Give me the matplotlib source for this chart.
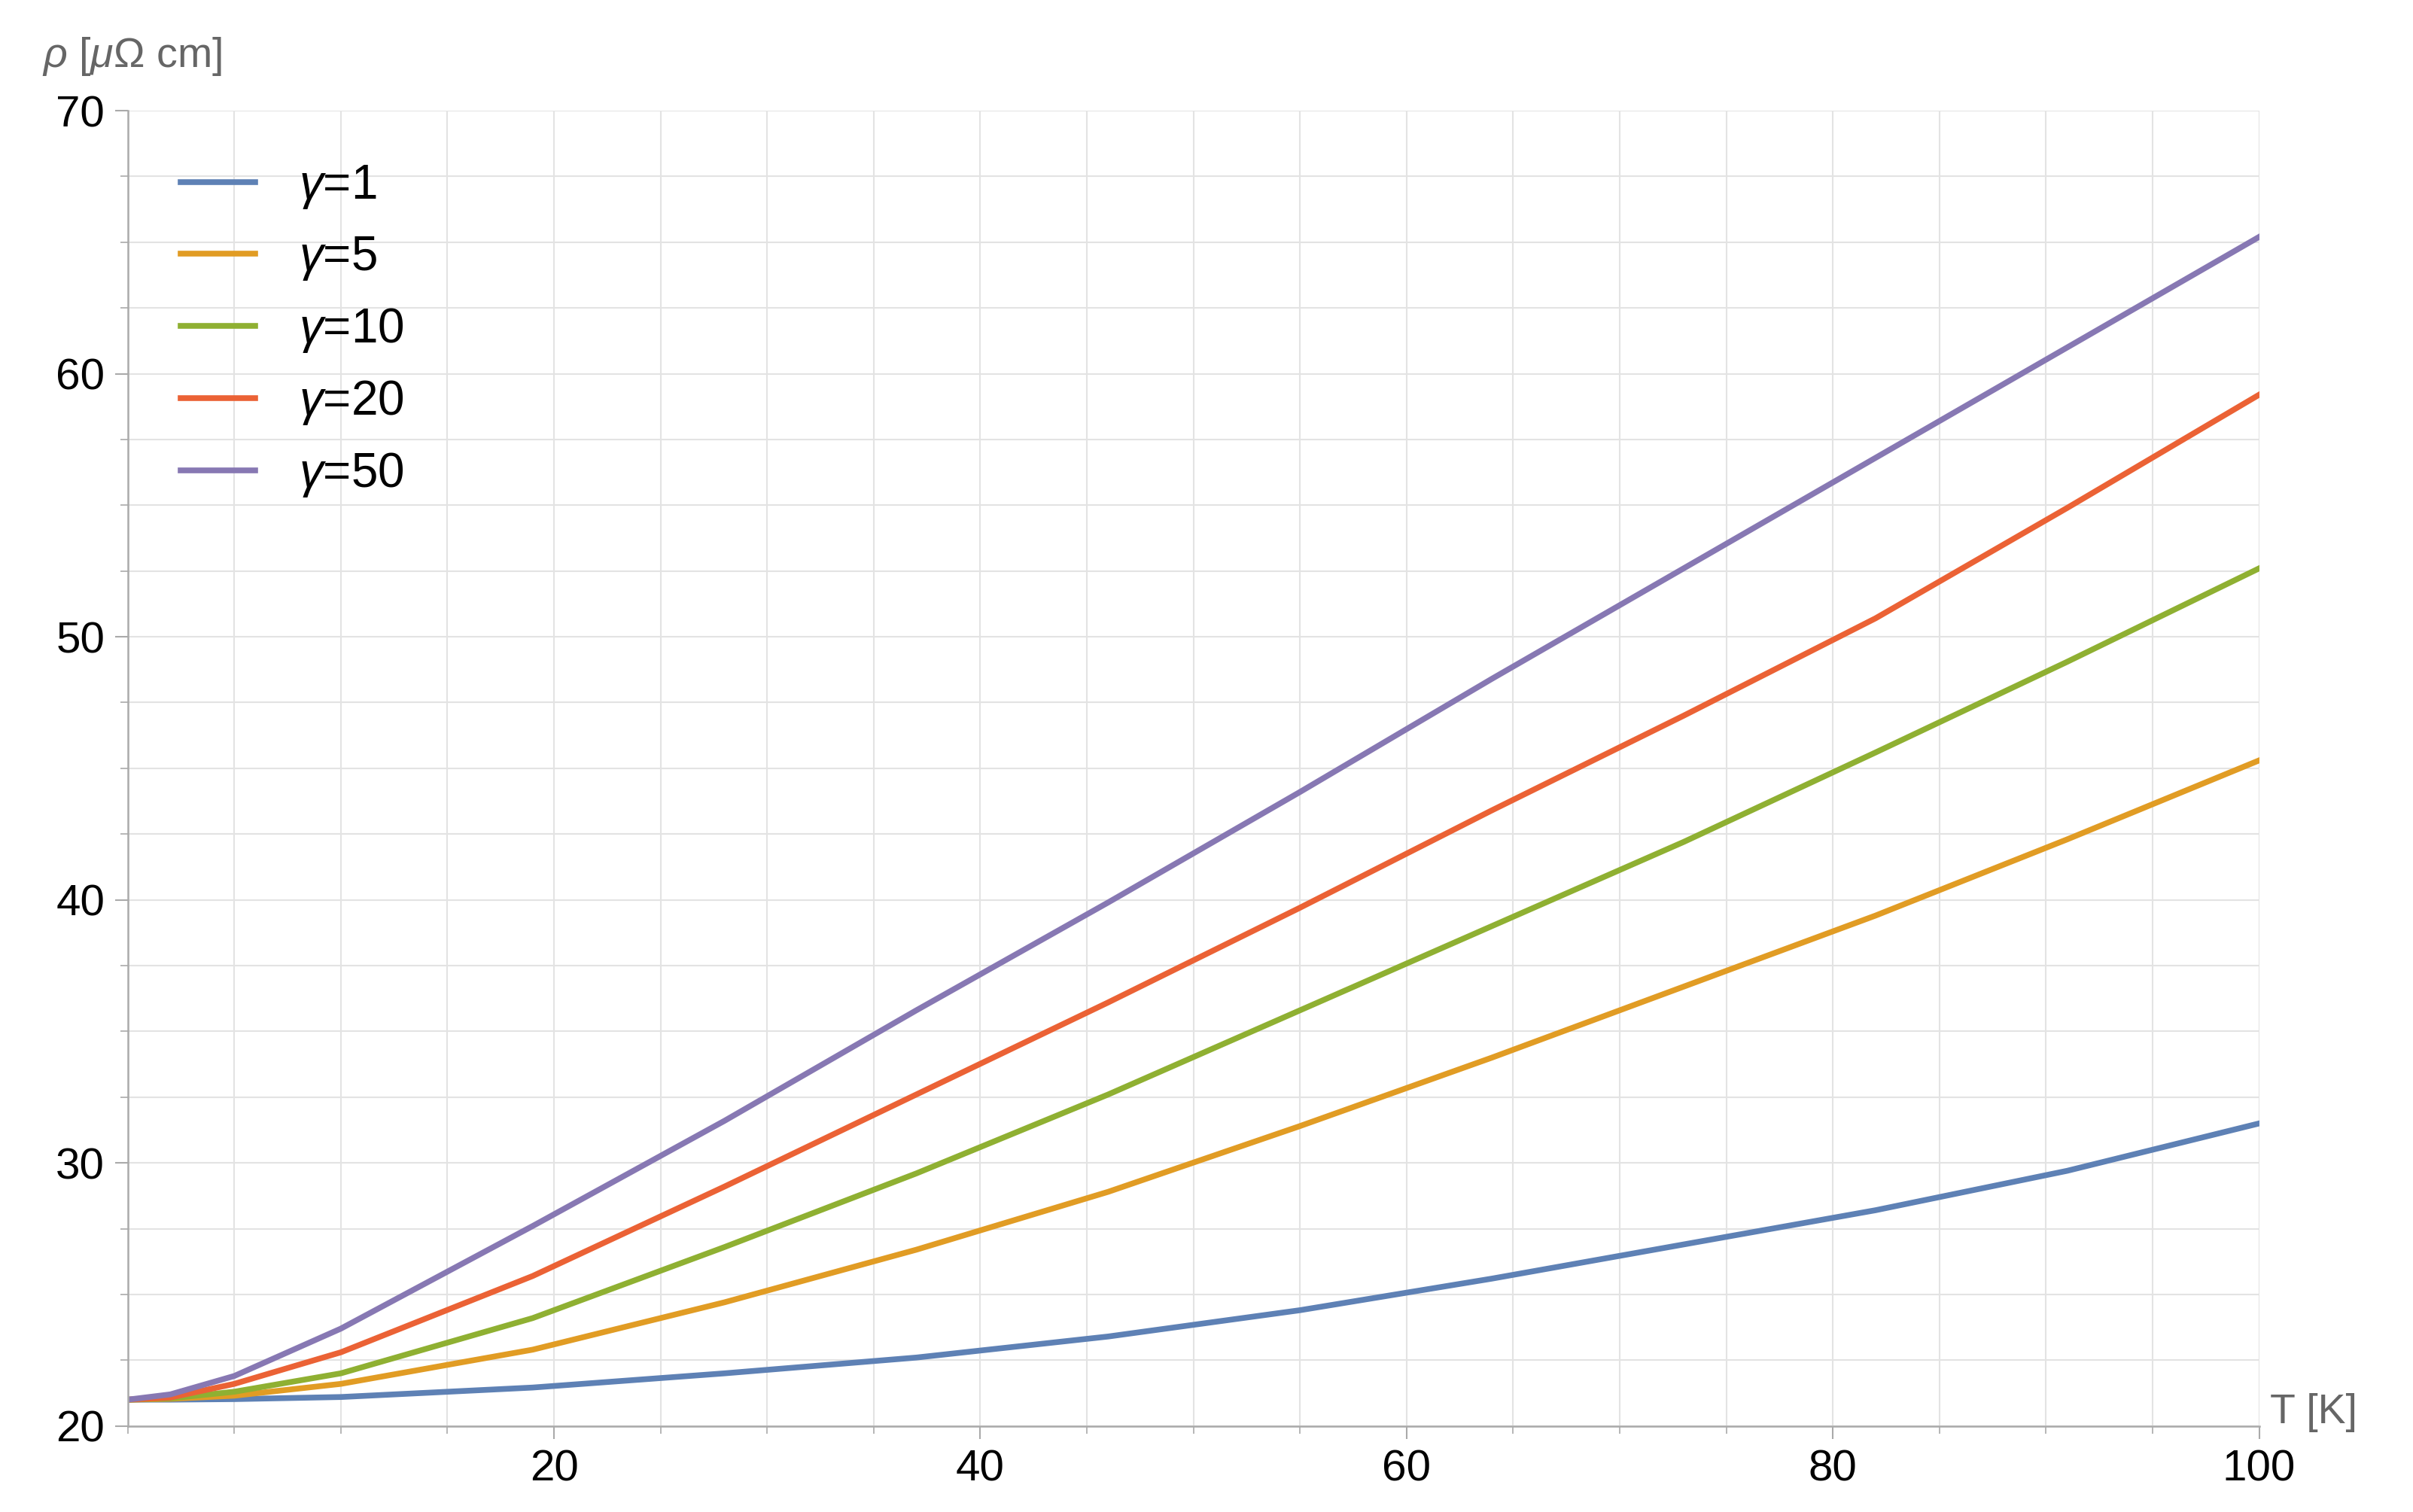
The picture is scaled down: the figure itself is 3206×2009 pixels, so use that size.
import matplotlib
matplotlib.use("Agg")
import matplotlib.pyplot as plt
from matplotlib.ticker import MultipleLocator

plt.rcParams['font.family'] = ['Liberation Sans', 'DejaVu Sans']
plt.rcParams['mathtext.fontset'] = 'custom'
plt.rcParams['mathtext.it'] = 'Liberation Sans:italic'
plt.rcParams['mathtext.rm'] = 'Liberation Sans'

T = [0, 2, 5, 10, 19, 28, 37, 46, 55, 64, 73, 82, 91, 100]
rho_g1 = [21.0, 21.0, 21.02, 21.1, 21.46, 22.0, 22.6, 23.4, 24.4, 25.6, 26.9, 28.2, 29.7, 31.5]
rho_g5 = [21.0, 21.03, 21.15, 21.6, 22.9, 24.7, 26.7, 28.9, 31.4, 34.0, 36.7, 39.4, 42.3, 45.3]
rho_g10 = [21.0, 21.05, 21.3, 22.0, 24.1, 26.8, 29.6, 32.6, 35.8, 39.0, 42.2, 45.6, 49.05, 52.6]
rho_g20 = [21.0, 21.08, 21.6, 22.8, 25.7, 29.1, 32.6, 36.1, 39.7, 43.4, 47.0, 50.7, 54.9, 59.2]
rho_g50 = [21.0, 21.2, 21.9, 23.7, 27.6, 31.6, 35.8, 39.9, 44.1, 48.4, 52.6, 56.8, 61.0, 65.2]
labels = [r'$\gamma$=1', r'$\gamma$=5', r'$\gamma$=10', r'$\gamma$=20', r'$\gamma$=50']
colors = ['#5E81B5', '#E19C24', '#8FB032', '#EB6235', '#8778B3']

fig = plt.figure(figsize=(32.06, 20.09), dpi=100)
ax = fig.add_axes([83/1568, 1-928/984, (1468-83)/1568, (928-72)/984])
for y, lab, c in zip([rho_g1, rho_g5, rho_g10, rho_g20, rho_g50], labels, colors):
    ax.plot(T, y, color=c, lw=5.5, label=lab)

ax.set_xlim(0, 100)
ax.set_ylim(20, 70)
ax.xaxis.set_major_locator(MultipleLocator(20))
ax.xaxis.set_minor_locator(MultipleLocator(5))
ax.yaxis.set_major_locator(MultipleLocator(10))
ax.yaxis.set_minor_locator(MultipleLocator(2.5))
ax.grid(which='both', color='#e3e3e3', lw=1.5)
ax.set_axisbelow(True)
for s in ['top', 'right']:
    ax.spines[s].set_visible(False)
for s in ['left', 'bottom']:
    ax.spines[s].set_color('#aaaaaa')
    ax.spines[s].set_linewidth(1.8)
ax.tick_params(which='major', length=12, width=1.5, color='#aaaaaa', labelsize=42, pad=10)
ax.tick_params(which='minor', length=7, width=1.2, color='#aaaaaa')
ax.set_xticks([20, 40, 60, 80, 100])
ax.set_yticks([20, 30, 40, 50, 60, 70])

ax.text(-0.04, 1.025, r'$\rho$ [$\mu\Omega$ cm]', transform=ax.transAxes, fontsize=40, color='#666666', ha='left', va='bottom')
ax.text(1.005, -0.005, 'T [K]', transform=ax.transAxes, fontsize=40, color='#666666', ha='left', va='bottom')

ax.legend(loc='upper left', bbox_to_anchor=(0.0, 1.0), frameon=False, fontsize=46,
          handlelength=1.55, labelspacing=0.5, handletextpad=0.9, borderaxespad=0.7)

fig.savefig('out.png', dpi=100, facecolor='white')
